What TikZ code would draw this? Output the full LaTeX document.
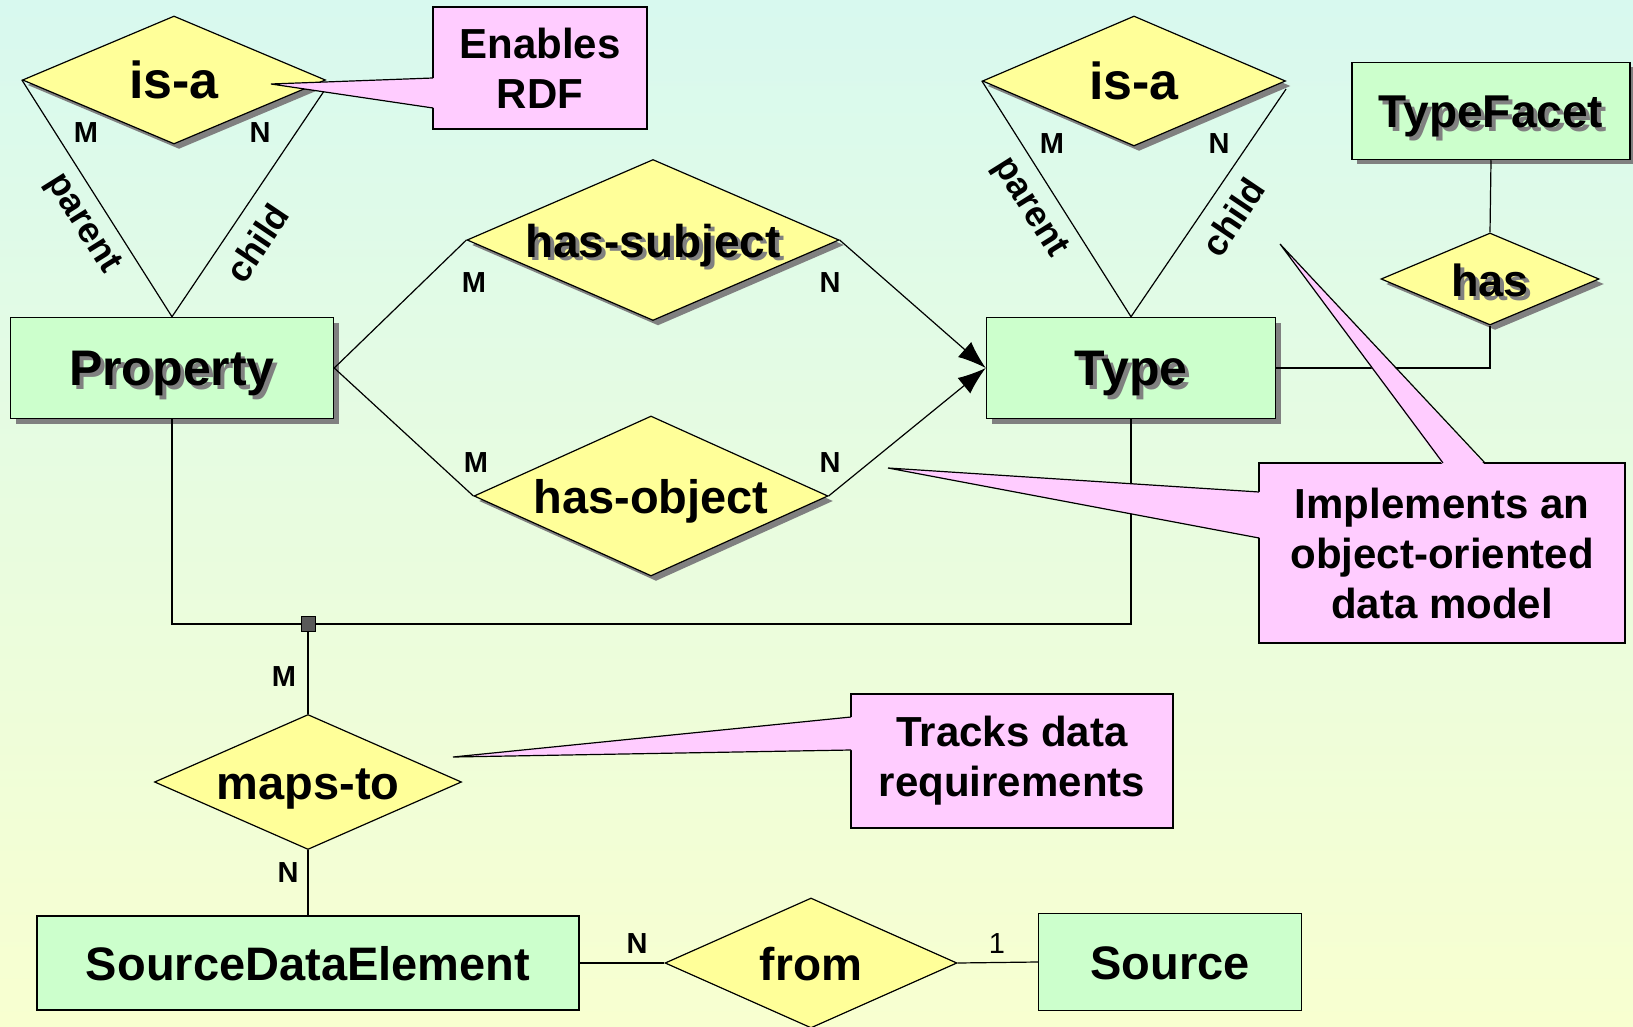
\documentclass[tikz,border=0pt]{standalone}
\usepackage{fontspec}
\setmainfont{Liberation Sans}
\usetikzlibrary{shapes.geometric,shadows,arrows.meta}

\definecolor{entgreen}{HTML}{CCFFCC}
\definecolor{relyellow}{HTML}{FFFF99}
\definecolor{notepink}{HTML}{FFCCFF}
\definecolor{shadegray}{HTML}{808080}
\definecolor{bgtop}{HTML}{D8F9EF}
\definecolor{bgbottom}{HTML}{F8FFD0}

% gray copy of the text behind it
\newcommand{\shtext}[1]{\rlap{\kern4pt\raisebox{-4pt}{\color{shadegray}#1}}#1}
% text that does not size the diamond
\newcommand{\rtext}[1]{\makebox[0pt]{#1}}

\begin{document}
\begin{tikzpicture}[x=1pt,y=-1pt,
    ent/.style={draw, fill=entgreen, line width=1.5pt, inner sep=0pt,
      text height=34pt, text depth=0pt,
      font=\bfseries\fontsize{47}{56}\selectfont},
    rel/.style={diamond, draw, fill=relyellow, line width=1.2pt, inner sep=0pt,
      text height=34pt, text depth=0pt,
      font=\bfseries\fontsize{46}{56}\selectfont},
    shad/.style={drop shadow={shadow xshift=5pt, shadow yshift=-5pt,
      fill=shadegray, opacity=1}},
    note/.style={draw, fill=notepink, line width=1.5pt, inner sep=0pt, align=center,
      font=\bfseries\fontsize{42}{50}\selectfont},
    card/.style={inner sep=0pt, font=\bfseries\fontsize{29}{32}\selectfont},
    role/.style={inner sep=0pt, font=\bfseries\fontsize{36}{40}\selectfont},
    link/.style={line width=1.2pt}]

  \shade[top color=bgtop, bottom color=bgbottom] (0,0) rectangle (1633,1027);
  \useasboundingbox (0,0) rectangle (1633,1027);

  % entities
  \node[ent, shad, minimum width=323, minimum height=101, font=\bfseries\fontsize{50}{60}\selectfont] at (172,368) (prop) {\shtext{Property}};
  \node[ent, shad, minimum width=289, minimum height=101, font=\bfseries\fontsize{50}{60}\selectfont] at (1131,368) (type) {\shtext{Type}};
  \node[ent, shad, minimum width=278, minimum height=97, font=\bfseries\fontsize{46}{56}\selectfont] at (1491,111) (facet) {\shtext{TypeFacet}};
  \node[ent, minimum width=542, minimum height=94] at (308,963) (sde) {SourceDataElement};
  \node[ent, minimum width=263, minimum height=97] at (1170,962) (src) {Source};

  % relationships
  \node[rel, shad, minimum width=303, minimum height=128, text height=37pt, font=\bfseries\fontsize{52}{60}\selectfont] at (174,80) (isa1) {\rtext{is-a}};
  \node[rel, shad, minimum width=303, minimum height=130, text height=37pt, font=\bfseries\fontsize{52}{60}\selectfont] at (1134,81) (isa2) {\rtext{is-a}};
  \node[rel, shad, minimum width=372, minimum height=161] at (653,240) (hsubj) {\rtext{\shtext{has-subject}}};
  \node[rel, shad, minimum width=354, minimum height=160, font=\bfseries\fontsize{47}{56}\selectfont] at (651,496) (hobj) {\rtext{has-object}};
  \node[rel, shad, minimum width=218, minimum height=92, font=\bfseries\fontsize{45}{56}\selectfont] at (1490,279) (has) {\rtext{\shtext{has}}};
  \node[rel, minimum width=307, minimum height=135, font=\bfseries\fontsize{47}{56}\selectfont] at (308,782) (maps) {\rtext{maps-to}};
  \node[rel, minimum width=292, minimum height=130] at (811,963) (from) {\rtext{from}};

  \node[draw, fill=black!65, line width=1pt, inner sep=0pt, minimum width=14, minimum height=15] at (308,624) (junc) {};

  % connectors
  \draw[link] (isa1.west) -- (prop.north);
  \draw[link] ([yshift=-8pt]isa1.east) -- (prop.north);
  \draw[link] (isa2.west) -- (type.north);
  \draw[link] ([yshift=-8pt]isa2.east) -- (type.north);
  \draw[link] (prop.east) -- (hsubj.west);
  \draw[link] (prop.east) -- (hobj.west);
  \draw[link,-{Latex[length=28pt,width=20pt]}] (hsubj.east) -- (type.west);
  \draw[link,-{Latex[length=28pt,width=20pt]}] (hobj.east) -- (type.west);
  \draw[link] (facet.south) -- (has.north);
  \draw[link] (type.east) -| (has.south);
  \draw[link] (prop.south) |- (junc.west);
  \draw[link] (junc.east) -| (type.south);
  \draw[link] (junc.south) -- (maps.north);
  \draw[link] (maps.south) -- (sde.north);
  \draw[link] (sde.east) -- (from.west);
  \draw[link] (from.east) -- (src.west);

  % cardinalities and roles
  \node[card] at (86,133) (m1) {M};
  \node[card] at (260,133) (n1) {N};
  \node[card] at (1052,144) (m2) {M};
  \node[card] at (1219,144) (n2) {N};
  \node[card] at (474,283) (m3) {M};
  \node[card] at (830,283) (n3) {N};
  \node[card] at (476,463) (m4) {M};
  \node[card] at (830,463) (n4) {N};
  \node[card] at (284,677) (m5) {M};
  \node[card] at (288,873) (n5) {N};
  \node[card] at (637,944) (n6) {N};
  \node[card, font=\fontsize{29}{32}\selectfont] at (997,944) (one) {1};
  \node[role, rotate=-58] at (82,224) (par1) {parent};
  \node[role, rotate=56] at (257,243) (chi1) {child};
  \node[role, rotate=-58] at (1029,208) (par2) {parent};
  \node[role, rotate=56] at (1233,217) (chi2) {child};

  % callouts
  \node[note, minimum width=214, minimum height=122] at (540,68) (rdf) {Enables\\RDF};
  \node[note, minimum width=366, minimum height=180] at (1442,553) (impl) {Implements an\\object-oriented\\data model};
  \node[note, minimum width=322, minimum height=134] at (1012,761) (trk) {Tracks data\\requirements};

  \coordinate (rdfa) at (433,78);
  \coordinate (rdfb) at (433,108);
  \coordinate (rdftip) at (271,84);
  \fill[notepink] ([xshift=2pt]rdfa) -- (rdftip) -- ([xshift=2pt]rdfb) -- cycle;
  \draw[link] (rdfa) -- (rdftip) -- (rdfb);

  \coordinate (impla) at (1259,492);
  \coordinate (implb) at (1259,538);
  \coordinate (impltip) at (888,468);
  \fill[notepink] ([xshift=2pt]impla) -- (impltip) -- ([xshift=2pt]implb) -- cycle;
  \draw[link] (impla) -- (impltip) -- (implb);

  \coordinate (implc) at (1443,463);
  \coordinate (impld) at (1485,463);
  \coordinate (impltop) at (1280,244);
  \fill[notepink] ([yshift=-2pt]implc) -- (impltop) -- ([yshift=-2pt]impld) -- cycle;
  \draw[link] (implc) -- (impltop) -- (impld);

  \coordinate (trka) at (851,717);
  \coordinate (trkb) at (851,750);
  \coordinate (trktip) at (453,757);
  \fill[notepink] ([xshift=2pt]trka) -- (trktip) -- ([xshift=2pt]trkb) -- cycle;
  \draw[link] (trka) -- (trktip) -- (trkb);
\end{tikzpicture}
\end{document}
